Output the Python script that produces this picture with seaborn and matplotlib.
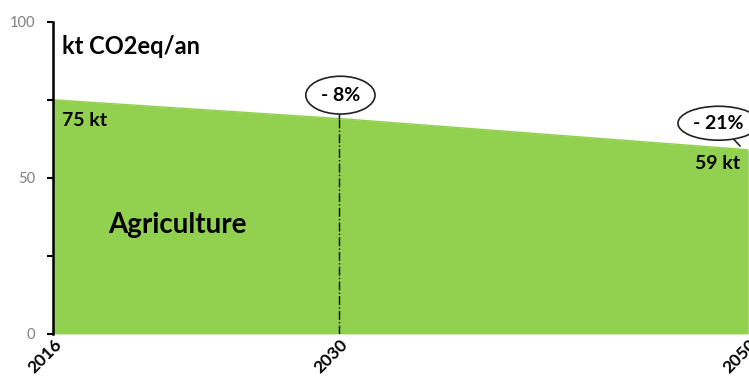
import matplotlib
matplotlib.use("Agg")
import matplotlib.pyplot as plt
import seaborn as sns
import pandas as pd

# data
years = [2016, 2030, 2050]
emissions = [75, 69, 59]          # kt CO2eq/an, Agriculture
changes = ["- 8%", "- 21%"]       # vs 2016, for 2030 and 2050
value_labels = ["75 kt", "59 kt"]
yticks_major = [0, 50, 100]
yticks_minor = [25, 75]

df = pd.DataFrame({"year": years, "kt": emissions})
green = "#92D050"

sns.set_theme(style="white")
plt.rcParams["font.family"] = ["Lato", "DejaVu Sans"]
plt.rcParams["text.color"] = "black"

fig = plt.figure(figsize=(7.49, 3.76), dpi=100)
ax = fig.add_axes([0.071, 0.112, 0.928, 0.83])

ax.fill_between(df["year"], 0, df["kt"], color=green, lw=0)
sns.lineplot(data=df, x="year", y="kt", color=green, lw=1, ax=ax)

# dash-dot marker at 2030
ax.vlines(years[1], 0, emissions[1], colors="black", linestyles="-.", lw=1)

ax.set_xlim(years[0], years[-1])
ax.set_ylim(0, 100)
ax.set_yticks(yticks_major)
ax.set_yticks(yticks_minor, minor=True)
ax.tick_params(axis="y", which="both", direction="out", length=4, width=1.5,
               colors="black", labelcolor="#7f7f7f", labelsize=10.5, left=True, pad=9)
ax.set_xticks(years)
ax.set_xticklabels([str(y) for y in years], rotation=45, ha="right",
                   rotation_mode="anchor", fontweight="bold", fontsize=12.5, color="black")
ax.tick_params(axis="x", length=0, pad=2)

for s in ["top", "right", "bottom"]:
    ax.spines[s].set_visible(False)
ax.spines["left"].set_color("black")
ax.spines["left"].set_linewidth(1.8)
ax.set_xlabel("")
ax.set_ylabel("")

ax.text(2016.45, 92, "kt CO2eq/an", fontsize=17, fontweight="bold", va="center")
ax.text(2016.45, 68.5, value_labels[0], fontsize=14, fontweight="bold", va="center")
ax.text(2049.6, 54.5, value_labels[1], fontsize=14, fontweight="bold", va="center", ha="right")
ax.text(2018.7, 35, "Agriculture", fontsize=20, fontweight="bold", va="center")

bubble = dict(boxstyle="ellipse,pad=0.25", fc="white", ec="#222222", lw=1.2)
ax.annotate(changes[0], xy=(years[1], emissions[1]), xytext=(years[1] + 0.05, 76.5),
            fontsize=14, fontweight="bold", ha="center", va="center", bbox=bubble,
            arrowprops=dict(arrowstyle="-", color="#222222", lw=1.2, shrinkA=0, shrinkB=0))
bubble2 = dict(boxstyle="ellipse,pad=0.18", fc="white", ec="#222222", lw=1.2)
ax.annotate(changes[1], xy=(years[2] - 0.4, emissions[2] + 1.2), xytext=(years[2] - 1.45, 67.5),
            fontsize=14, fontweight="bold", ha="center", va="center", bbox=bubble2,
            arrowprops=dict(arrowstyle="-", color="#222222", lw=1.2, shrinkA=0, shrinkB=0),
            annotation_clip=False)

fig.savefig("out.png", dpi=100)
